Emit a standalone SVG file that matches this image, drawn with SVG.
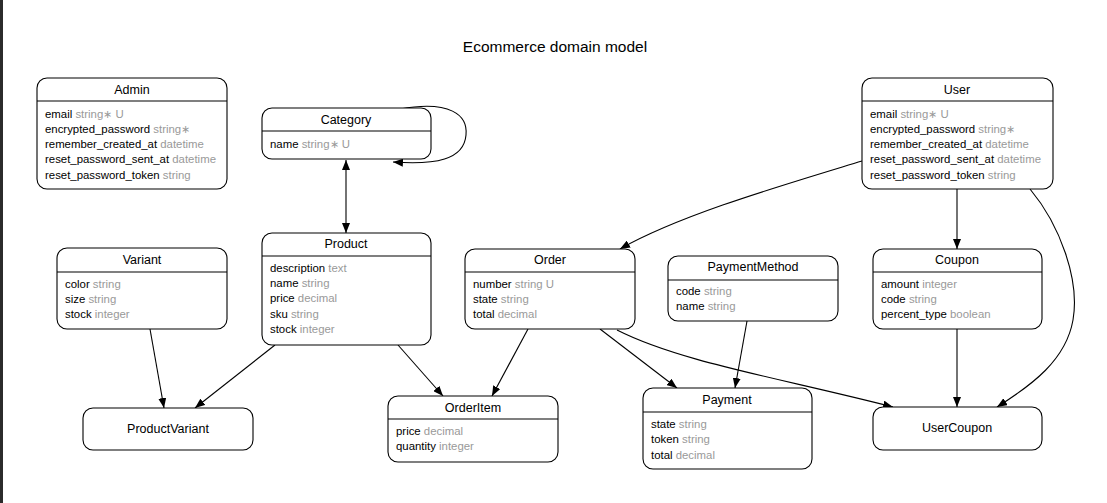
<svg xmlns="http://www.w3.org/2000/svg" width="1107" height="503" viewBox="0 0 1107 503">
<defs>
<style>
.box{fill:#fff;stroke:#000;stroke-width:1.1}
.sep{stroke:#000;stroke-width:1.1}
.t{font-family:"Liberation Sans",Arial,sans-serif;font-size:12.5px;fill:#000;text-anchor:middle}
.a{font-family:"Liberation Sans",Arial,sans-serif;font-size:11.4px;fill:#000}
.g{fill:#999}
.e{fill:none;stroke:#000;stroke-width:1.1}
.title{font-family:"Liberation Sans",Arial,sans-serif;font-size:15.5px;fill:#000;text-anchor:middle}
</style>
<marker id="arr" viewBox="0 0 10 8" refX="10" refY="4" markerWidth="10" markerHeight="8" markerUnits="userSpaceOnUse" orient="auto-start-reverse">
<path d="M0,0 L10,4 L0,8 Z" fill="#000"/>
</marker>
</defs>
<rect x="0" y="0" width="1107" height="503" fill="#fff"/>
<rect x="0" y="0" width="3" height="503" fill="#2b2b2b"/>
<text class="title" x="555" y="52">Ecommerce domain model</text>

<g id="edges">
<path class="e" d="M400,109 C450,100 468,115 466,135 C464,160 435,165 393,162" marker-end="url(#arr)"/>
<path class="e" d="M346,160 L346,233" marker-start="url(#arr)" marker-end="url(#arr)"/>
<path class="e" d="M150,329 L164,408" marker-end="url(#arr)"/>
<path class="e" d="M275,345 L195,408" marker-end="url(#arr)"/>
<path class="e" d="M398,345 L443,396" marker-end="url(#arr)"/>
<path class="e" d="M528,329 L492,396" marker-end="url(#arr)"/>
<path class="e" d="M600,329 L677,388" marker-end="url(#arr)"/>
<path class="e" d="M617,330 C680,362 780,378 893,407" marker-end="url(#arr)"/>
<path class="e" d="M747,321 L735,388" marker-end="url(#arr)"/>
<path class="e" d="M862,161 C780,186 680,215 620,249" marker-end="url(#arr)"/>
<path class="e" d="M957,189 L957,249" marker-end="url(#arr)"/>
<path class="e" d="M1030,189 C1060,225 1080,280 1073,320 C1066,360 1032,385 997,407" marker-end="url(#arr)"/>
<path class="e" d="M957,329 L957,407" marker-end="url(#arr)"/>
</g>

<g id="Admin">
<rect class="box" x="37" y="78" width="190" height="111" rx="10"/>
<line class="sep" x1="37" y1="101" x2="227" y2="101"/>
<text class="t" x="132" y="94">Admin</text>
<text class="a" x="45" y="118">email <tspan class="g">string∗ U</tspan></text>
<text class="a" x="45" y="133">encrypted_password <tspan class="g">string∗</tspan></text>
<text class="a" x="45" y="148">remember_created_at <tspan class="g">datetime</tspan></text>
<text class="a" x="45" y="163">reset_password_sent_at <tspan class="g">datetime</tspan></text>
<text class="a" x="45" y="179">reset_password_token <tspan class="g">string</tspan></text>
</g>

<g id="Category">
<rect class="box" x="262" y="108" width="169" height="51" rx="10"/>
<line class="sep" x1="262" y1="131" x2="431" y2="131"/>
<text class="t" x="346" y="124">Category</text>
<text class="a" x="270" y="148">name <tspan class="g">string∗ U</tspan></text>
</g>

<g id="User">
<rect class="box" x="862" y="78" width="191" height="111" rx="10"/>
<line class="sep" x1="862" y1="101" x2="1053" y2="101"/>
<text class="t" x="957" y="94">User</text>
<text class="a" x="870" y="118">email <tspan class="g">string∗ U</tspan></text>
<text class="a" x="870" y="133">encrypted_password <tspan class="g">string∗</tspan></text>
<text class="a" x="870" y="148">remember_created_at <tspan class="g">datetime</tspan></text>
<text class="a" x="870" y="163">reset_password_sent_at <tspan class="g">datetime</tspan></text>
<text class="a" x="870" y="179">reset_password_token <tspan class="g">string</tspan></text>
</g>

<g id="Product">
<rect class="box" x="262" y="233" width="169" height="112" rx="10"/>
<line class="sep" x1="262" y1="256" x2="431" y2="256"/>
<text class="t" x="346" y="248">Product</text>
<text class="a" x="270" y="272">description <tspan class="g">text</tspan></text>
<text class="a" x="270" y="287">name <tspan class="g">string</tspan></text>
<text class="a" x="270" y="302">price <tspan class="g">decimal</tspan></text>
<text class="a" x="270" y="318">sku <tspan class="g">string</tspan></text>
<text class="a" x="270" y="333">stock <tspan class="g">integer</tspan></text>
</g>

<g id="Variant">
<rect class="box" x="57" y="248" width="170" height="81" rx="10"/>
<line class="sep" x1="57" y1="272" x2="227" y2="272"/>
<text class="t" x="142" y="264">Variant</text>
<text class="a" x="65" y="288">color <tspan class="g">string</tspan></text>
<text class="a" x="65" y="303">size <tspan class="g">string</tspan></text>
<text class="a" x="65" y="318">stock <tspan class="g">integer</tspan></text>
</g>

<g id="Order">
<rect class="box" x="465" y="249" width="170" height="80" rx="10"/>
<line class="sep" x1="465" y1="272" x2="635" y2="272"/>
<text class="t" x="550" y="264">Order</text>
<text class="a" x="473" y="288">number <tspan class="g">string U</tspan></text>
<text class="a" x="473" y="303">state <tspan class="g">string</tspan></text>
<text class="a" x="473" y="318">total <tspan class="g">decimal</tspan></text>
</g>

<g id="PaymentMethod">
<rect class="box" x="668" y="256" width="170" height="65" rx="10"/>
<line class="sep" x1="668" y1="280" x2="838" y2="280"/>
<text class="t" x="753" y="271">PaymentMethod</text>
<text class="a" x="676" y="295">code <tspan class="g">string</tspan></text>
<text class="a" x="676" y="310">name <tspan class="g">string</tspan></text>
</g>

<g id="Coupon">
<rect class="box" x="873" y="249" width="169" height="80" rx="10"/>
<line class="sep" x1="873" y1="272" x2="1042" y2="272"/>
<text class="t" x="957" y="264">Coupon</text>
<text class="a" x="881" y="288">amount <tspan class="g">integer</tspan></text>
<text class="a" x="881" y="303">code <tspan class="g">string</tspan></text>
<text class="a" x="881" y="318">percent_type <tspan class="g">boolean</tspan></text>
</g>

<g id="ProductVariant">
<rect class="box" x="83" y="408" width="170" height="42" rx="10"/>
<text class="t" x="168" y="433">ProductVariant</text>
</g>

<g id="OrderItem">
<rect class="box" x="388" y="396" width="170" height="66" rx="10"/>
<line class="sep" x1="388" y1="419" x2="558" y2="419"/>
<text class="t" x="473" y="412">OrderItem</text>
<text class="a" x="396" y="435">price <tspan class="g">decimal</tspan></text>
<text class="a" x="396" y="450">quantity <tspan class="g">integer</tspan></text>
</g>

<g id="Payment">
<rect class="box" x="643" y="388" width="169" height="81" rx="10"/>
<line class="sep" x1="643" y1="412" x2="812" y2="412"/>
<text class="t" x="727" y="404">Payment</text>
<text class="a" x="651" y="428">state <tspan class="g">string</tspan></text>
<text class="a" x="651" y="443">token <tspan class="g">string</tspan></text>
<text class="a" x="651" y="459">total <tspan class="g">decimal</tspan></text>
</g>

<g id="UserCoupon">
<rect class="box" x="873" y="407" width="169" height="43" rx="10"/>
<text class="t" x="957" y="432">UserCoupon</text>
</g>
</svg>
